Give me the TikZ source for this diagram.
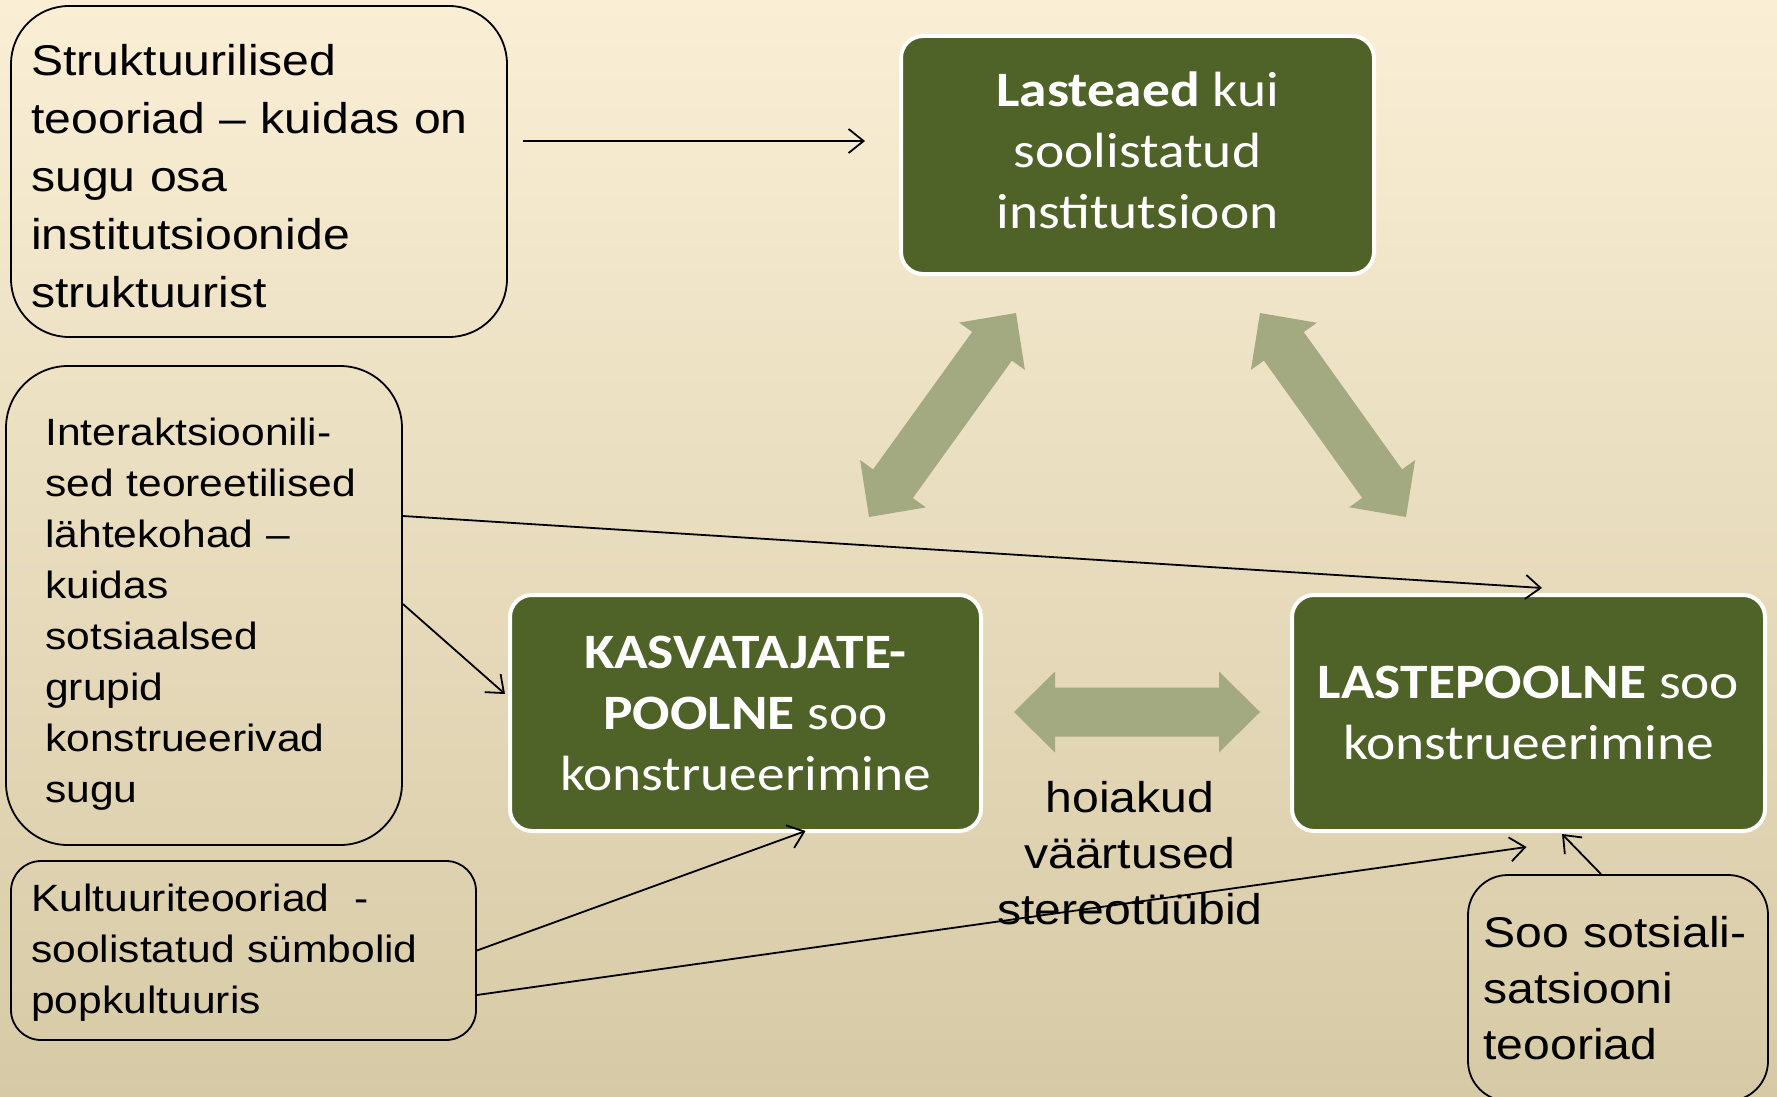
\documentclass[tikz,border=0pt]{standalone}
\usepackage{fontspec}
\setmainfont{Liberation Sans}[FakeStretch=1.12]
\newfontfamily\calib{Carlito}[FakeStretch=1.12]
\usetikzlibrary{calc,arrows.meta}
\definecolor{bgtop}{RGB}{250,238,213}
\definecolor{bgmid}{RGB}{242,235,215}
\definecolor{bgbot}{RGB}{214,202,166}
\definecolor{olive}{RGB}{79,98,40}
\definecolor{fatcol}{RGB}{163,169,129}
\tikzset{
  theory/.style={draw=black, line width=1.8pt, inner sep=0pt},
  theorytext/.style={align=left, inner sep=0pt, anchor=west},
  greenbox/.style={fill=olive, draw=white, line width=4pt, rounded corners=22pt,
    text=white, align=center, inner sep=0pt,
    font=\calib\fontsize{49.5}{61}\selectfont},
  conn/.style={line width=1.8pt, -{Straight Barb[length=15pt,width=24pt]}},
}
\newcommand\fatarrow[2]{%
  \fill[fatcol] (#1)
    -- ($(#1)!41pt!(#2)!40.5pt!90:(#2)$)
    -- ($(#1)!41pt!(#2)!24.5pt!90:(#2)$)
    -- ($(#2)!41pt!(#1)!24.5pt!-90:(#1)$)
    -- ($(#2)!41pt!(#1)!40.5pt!-90:(#1)$)
    -- (#2)
    -- ($(#2)!41pt!(#1)!40.5pt!90:(#1)$)
    -- ($(#2)!41pt!(#1)!24.5pt!90:(#1)$)
    -- ($(#1)!41pt!(#2)!24.5pt!-90:(#2)$)
    -- ($(#1)!41pt!(#2)!40.5pt!-90:(#2)$)
    -- cycle;}
\begin{document}
\begin{tikzpicture}[x=1pt,y=-1pt]
\useasboundingbox (0,0) rectangle (1777,1097);
\shade[top color=bgtop, middle color=bgmid, bottom color=bgbot] (0,0) rectangle (1777,1097);
\begin{scope}
\clip (0,0) rectangle (1777,1097);

% theory boxes
\node[theory, rounded corners=58pt, minimum width=496pt, minimum height=331pt] (box1) at (259,171.5) {};
\node[theorytext, text width=454pt, font=\fontsize{43}{58}\selectfont] (box1t)
  at ([shift={(21,5)}]box1.west)
  {Struktuurilised\\teooriad – kuidas on\\sugu osa\\institutsioonide\\struktuurist};
\node[theory, rounded corners=62pt, minimum width=396pt, minimum height=479pt] (box2) at (204,605.5) {};
\node[theorytext, text width=316pt, font=\fontsize{38}{51}\selectfont] (box2t)
  at ([shift={(40,9)}]box2.west)
  {Interaktsioonili-\\sed teoreetilised\\lähtekohad –\\kuidas\\sotsiaalsed\\grupid\\konstrueerivad\\sugu};
\node[theory, rounded corners=30pt, minimum width=465pt, minimum height=179pt] (box3) at (243.5,950.5) {};
\node[theorytext, text width=423pt, font=\fontsize{38}{51}\selectfont] (box3t)
  at ([shift={(21,2)}]box3.west)
  {Kultuuriteooriad~~-\\soolistatud sümbolid\\popkultuuris};
\node[theory, rounded corners=40pt, minimum width=300pt, minimum height=226pt] (box4) at (1618,988) {};
\node[theorytext, text width=268pt, font=\fontsize{43}{56}\selectfont] (box4t)
  at ([shift={(16,0)}]box4.west)
  {Soo sotsiali-\\satsiooni\\teooriad};

% green boxes
\node[greenbox, minimum width=473pt, minimum height=238pt] (lasteaed) at (1137.5,155) {};
\node[text=white, align=center, inner sep=0pt, font=\calib\fontsize{49.5}{61}\selectfont] (lasteaedt)
  at ([shift={(0,-4.5)}]lasteaed.center) {\textbf{Lasteaed} kui\\soolistatud\\institutsioon};
\node[greenbox, minimum width=471pt, minimum height=236pt] (kasv) at (745.5,713)
  {\textbf{KASVATAJATE-}\\\textbf{POOLNE} soo\\konstrueerimine};
\node[greenbox, minimum width=473pt, minimum height=236pt] (laste) at (1528.5,713)
  {\textbf{LASTEPOOLNE} soo\\konstrueerimine};

% fat double arrows
\coordinate (la1) at (1016,313); \coordinate (la2) at (869,517);
\coordinate (ra1) at (1260,313); \coordinate (ra2) at (1406,517);
\coordinate (ha1) at (1014,712); \coordinate (ha2) at (1260,712);
\fatarrow{la1}{la2}
\fatarrow{ra1}{ra2}
\fatarrow{ha1}{ha2}

% thin connectors
\draw[conn] ([shift={(15,-30.5)}]box1.east) -- ([shift={(-34,-14)}]lasteaed.west);
\draw[conn] ([shift={(0,-89.5)}]box2.east) -- ([shift={(13.5,-5)}]laste.north);
\draw[conn] ([shift={(0,-1.5)}]box2.east) -- ([shift={(-3,-19)}]kasv.west);
\draw[conn] (box3.east) -- ([shift={(60,-2)}]kasv.south);
\draw[conn] ([shift={(0,44.5)}]box3.east) -- ([shift={(-2,14)}]laste.south);
\draw[conn] ([shift={(-17,0)}]box4.north) -- ([shift={(33.5,1)}]laste.south);

\node[align=center, inner sep=0pt, font=\fontsize{43}{56}\selectfont] (vals) at (1130,853)
  {hoiakud\\väärtused\\stereotüübid};
\end{scope}
\end{tikzpicture}
\end{document}
